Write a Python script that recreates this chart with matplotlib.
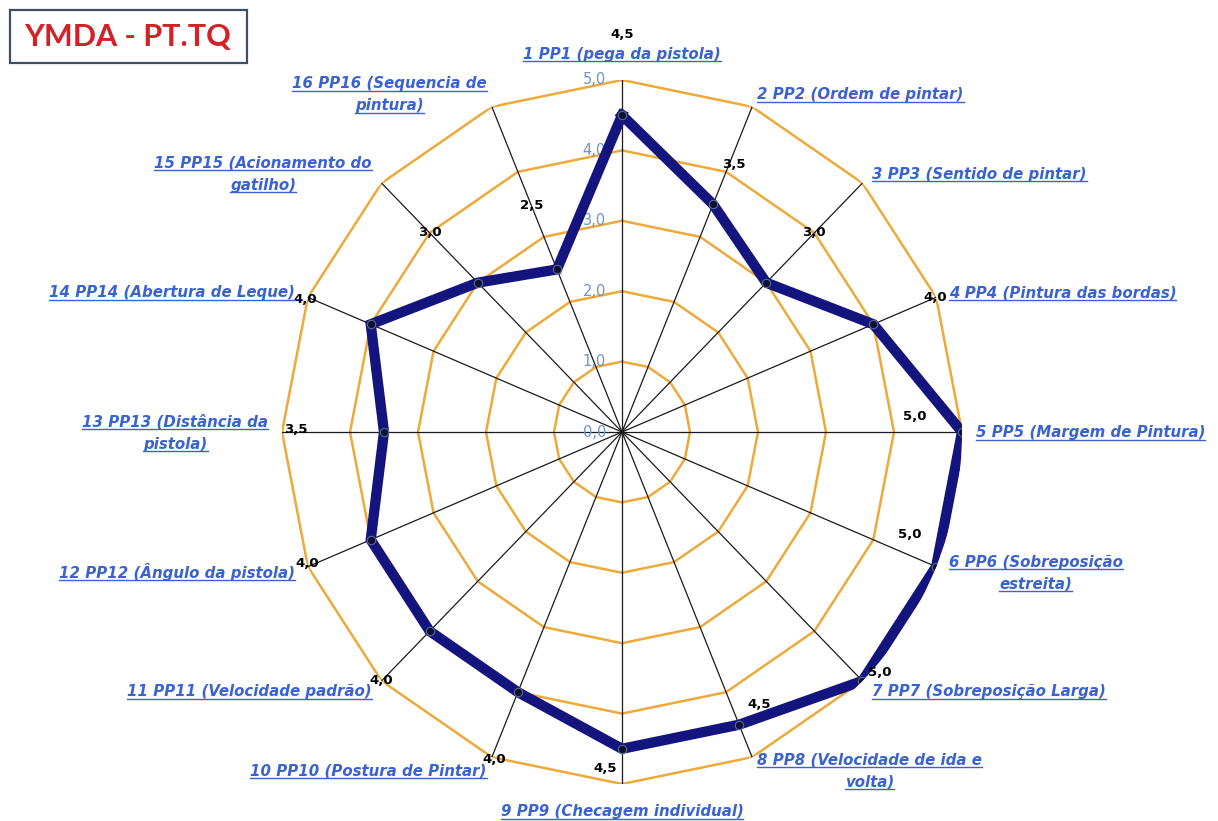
import numpy as np
import matplotlib
matplotlib.use('Agg')
import matplotlib.pyplot as plt
from matplotlib.lines import Line2D
from matplotlib.patches import Rectangle

# itens avaliados e notas
categories = [
    '1 PP1 (pega da pistola)',
    '2 PP2 (Ordem de pintar)',
    '3 PP3 (Sentido de pintar)',
    '4 PP4 (Pintura das bordas)',
    '5 PP5 (Margem de Pintura)',
    '6 PP6 (Sobreposição\nestreita)',
    '7 PP7 (Sobreposição Larga)',
    '8 PP8 (Velocidade de ida e\nvolta)',
    '9 PP9 (Checagem individual)',
    '10 PP10 (Postura de Pintar)',
    '11 PP11 (Velocidade padrão)',
    '12 PP12 (Ângulo da pistola)',
    '13 PP13 (Distância da\npistola)',
    '14 PP14 (Abertura de Leque)',
    '15 PP15 (Acionamento do\ngatilho)',
    '16 PP16 (Sequencia de\npintura)',
]
scores = [4.5, 3.5, 3.0, 4.0, 5.0, 5.0, 5.0, 4.5, 4.5, 4.0, 4.0, 4.0, 3.5, 4.0, 3.0, 2.5]
ring_levels = [0, 1, 2, 3, 4, 5]
r_max = 5

# posicao dos rotulos de valor (desvio angular em graus, raio)
val_dtheta = [0, 1, 0, 0, -3, -3.5, -3, -5, 3, -0.5, 0, 0.5, 0.5, -0.5, 0, 0]
val_r = [5.64, 4.14, 4.0, 4.98, 4.31, 4.48, 5.10, 4.36, 4.78, 5.01, 5.0, 4.99, 4.79, 5.03, 4.0, 3.48]

ring_c = '#EDA93A'
line_c = '#14147F'
lab_c = '#3A62D0'
tick_c = '#7093C8'
lab_font = dict(fontsize=10.8, style='italic', fontweight='bold')
lab_dy = 22      # px entre linhas dos rotulos
base_off = 5.5   # px do centro da linha ate a linha de base

W, H = 1218, 821
fig = plt.figure(figsize=(W / 100, H / 100), dpi=100)
fig.patch.set_facecolor('white')

# area polar: centro em (622, 432) px, 68 px/unid. na horizontal, 70.4 px/unid. na vertical
cx, cy, ux, uy = 622, 432, 68.0, 70.4
ax = fig.add_axes([(cx - r_max * ux) / W, (H - cy - r_max * uy) / H,
                   2 * r_max * ux / W, 2 * r_max * uy / H], projection='polar')
ax.set_aspect('auto')
ax.set_theta_zero_location('N')
ax.set_theta_direction(-1)
ax.set_ylim(0, r_max)
ax.grid(False)
ax.set_xticks([])
ax.set_yticks([])
ax.spines['polar'].set_visible(False)
ax.patch.set_visible(False)

n = len(categories)
theta = np.arange(n) * 2 * np.pi / n
theta_c = np.append(theta, theta[0])

# aneis poligonais
for lv in ring_levels[1:]:
    ax.plot(theta_c, [lv] * (n + 1), color=ring_c, lw=1.8, zorder=1)

# raios
for t in theta:
    ax.plot([t, t], [0, r_max], color='#1a1a1a', lw=0.9, zorder=2)

# rotulos da escala
for lv in ring_levels:
    ax.annotate(f'{lv:.1f}'.replace('.', ','), xy=(0, lv), xytext=(-16, 0),
                textcoords='offset pixels', ha='right', va='center',
                fontsize=10.5, color=tick_c, zorder=3)

# serie
vals_c = np.append(scores, scores[0])
ax.plot(theta_c, vals_c, color=line_c, lw=7.4, solid_joinstyle='miter', zorder=4)
ax.plot(theta, scores, ls='none', marker='o', ms=6, mfc='#0d1030', mec='#5a6c8c',
        mew=0.8, zorder=5)

# rotulos de valor
for i, v in enumerate(scores):
    t = theta[i] + np.radians(val_dtheta[i])
    ax.text(t, val_r[i], f'{v:.1f}'.replace('.', ','), ha='center', va='center',
            fontsize=9.5, fontweight='bold', color='black', zorder=6, clip_on=False)

# rotulos das categorias, linha a linha e sublinhados
fig.canvas.draw()
renderer = fig.canvas.get_renderer()


def text_width(s):
    tmp = fig.text(0, 0, s, **lab_font)
    w = tmp.get_window_extent(renderer).width
    tmp.remove()
    return w


for i, name in enumerate(categories):
    s = np.sin(theta[i])
    if s > 0.1:
        ha, r = 'left', 5.2
    elif s < -0.1:
        ha, r = 'right', 5.2
    else:
        ha, r = 'center', 5.38
    px, py = ax.transData.transform((theta[i], r))
    lines = name.split('\n')
    widths = [text_width(ln) for ln in lines]
    bw = max(widths)
    xm = px + bw / 2 if ha == 'left' else px - bw / 2 if ha == 'right' else px
    for k, (ln, w) in enumerate(zip(lines, widths)):
        yb = py + ((len(lines) - 1) / 2 - k) * lab_dy - base_off
        fig.text(xm / W, yb / H, ln, ha='center', va='baseline', color=lab_c, **lab_font)
        fig.add_artist(Line2D([(xm - w / 2) / W, (xm + w / 2) / W],
                              [(yb - 2.5) / H, (yb - 2.5) / H], color=lab_c, lw=1.0))

# caixa do titulo
fig.add_artist(Rectangle((10 / W, 1 - 63 / H), 237 / W, 53 / H, transform=fig.transFigure,
                         fill=False, edgecolor='#3F4F63', lw=1.6))
fig.text(128 / W, 1 - 37 / H, 'YMDA - PT.TQ', ha='center', va='center',
         fontsize=22, fontweight='bold', color='#D42027', family='Lato')

fig.savefig('out.png', dpi=100, facecolor='white')
